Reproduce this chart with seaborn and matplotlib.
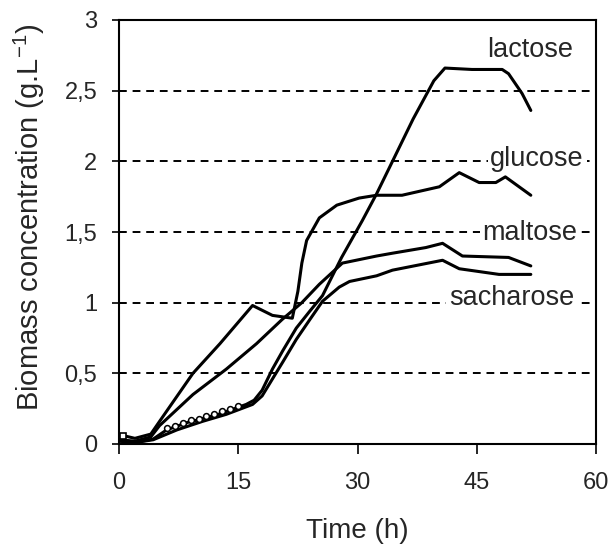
import matplotlib
matplotlib.use("Agg")
import matplotlib.pyplot as plt
import seaborn as sns
import pandas as pd

# Biomass growth curves on four carbon sources (time in h, biomass in g/L)
lactose_t = [0, 2, 4.3, 6, 7, 8, 9, 10, 11, 12, 13, 14, 15, 16, 17, 18, 19.3, 20.6,
             22.3, 24, 25.6, 28, 30.6, 32.4, 34.4, 37, 39.6, 41, 44.4, 48.2, 49, 50.7, 51.8]
lactose_v = [0.02, 0.01, 0.035, 0.10, 0.12, 0.14, 0.16, 0.17, 0.19, 0.20, 0.22, 0.24, 0.26,
             0.28, 0.31, 0.38, 0.53, 0.66, 0.82, 0.94, 1.05, 1.32, 1.58, 1.77, 2.00, 2.30,
             2.57, 2.66, 2.65, 2.65, 2.62, 2.48, 2.36]

glucose_t = [0.5, 2, 4, 5.1, 9.3, 12.7, 16.8, 19.3, 21.8, 22.5, 23, 23.6, 25.2, 27.4, 30.2,
             32.4, 35.6, 40.3, 42.8, 45.3, 47.4, 48.6, 51.8]
glucose_v = [0.06, 0.04, 0.07, 0.16, 0.50, 0.71, 0.98, 0.91, 0.89, 1.08, 1.28, 1.44, 1.60,
             1.69, 1.74, 1.76, 1.76, 1.82, 1.92, 1.85, 1.85, 1.89, 1.76]

maltose_t = [0, 2, 4, 5.1, 9.3, 13.5, 17.3, 20.5, 23, 25.2, 28.1, 32.4, 34.4, 38.6, 40.7,
             43.2, 49, 51.8]
maltose_v = [0.03, 0.02, 0.05, 0.13, 0.35, 0.53, 0.71, 0.88, 1.00, 1.13, 1.28, 1.33, 1.35,
             1.39, 1.42, 1.33, 1.32, 1.26]

sacharose_t = [0, 2, 4.3, 7.3, 10.5, 13.5, 16.8, 18, 19.3, 20.6, 22.3, 24, 25.6, 27.7, 29,
               32.4, 34.4, 38, 40.7, 42.8, 47.8, 51.8]
sacharose_v = [0.0, 0.01, 0.03, 0.10, 0.16, 0.21, 0.28, 0.34, 0.46, 0.58, 0.74, 0.88, 1.01,
               1.11, 1.15, 1.19, 1.23, 1.27, 1.30, 1.24, 1.20, 1.20]

curve_labels = ["lactose", "glucose", "maltose", "sacharose"]
label_t = [51.7, 52.6, 51.7, 49.4]
label_v = [2.79, 2.02, 1.49, 1.03]

x_ticks = [0, 15, 30, 45, 60]
y_ticks = [0, 0.5, 1, 1.5, 2, 2.5, 3]
y_tick_labels = ["0", "0,5", "1", "1,5", "2", "2,5", "3"]

sns.set_style("ticks")
plt.rcParams["font.family"] = ["Liberation Sans", "DejaVu Sans"]

fig = plt.figure(figsize=(6.11, 5.48), dpi=100)
ax = fig.add_axes([119 / 611, 1 - 444 / 548, 477 / 611, 424 / 548])

frames = []
for name, t, v in [("lactose", lactose_t, lactose_v), ("glucose", glucose_t, glucose_v),
                   ("maltose", maltose_t, maltose_v), ("sacharose", sacharose_t, sacharose_v)]:
    frames.append(pd.DataFrame({"time": t, "biomass": v, "sugar": name}))
df = pd.concat(frames, ignore_index=True)

# dashed horizontal reference lines
for yv in y_ticks[1:-1]:
    ax.axhline(yv, color="black", lw=1.4, ls=(0, (4, 3)), zorder=1)

sns.lineplot(data=df, x="time", y="biomass", hue="sugar", units="sugar", estimator=None,
             sort=False, palette=["black"] * 4, lw=2.2, legend=False, ax=ax, zorder=3)

# open markers along the early lactose points
early = df[(df["sugar"] == "lactose") & (df["time"] >= 6) & (df["time"] <= 15)]
ax.plot(early["time"], early["biomass"] + 0.01, ls="none", marker="o", ms=4.2,
        mfc="white", mec="black", mew=1.1, zorder=4)
first = df[df["sugar"] == "glucose"].iloc[:1]
ax.plot(first["time"], first["biomass"], ls="none", marker="s", ms=4.5,
        mfc="white", mec="black", mew=1.2, zorder=4)

for lab, tx, ty in zip(curve_labels, label_t, label_v):
    ax.text(tx, ty, lab, fontsize=19.5, ha="center", va="center", zorder=2,
            bbox=dict(boxstyle="square,pad=0.1", fc="white", ec="none"))

ax.set_xlim(0, 60)
ax.set_ylim(0, 3)
ax.set_xticks(x_ticks)
ax.set_xticklabels([str(x) for x in x_ticks])
ax.set_yticks(y_ticks)
ax.set_yticklabels(y_tick_labels)
ax.tick_params(axis="y", direction="inout", length=9.5, width=1.4, labelsize=17, pad=11)
ax.tick_params(axis="x", direction="out", length=7, width=1.4, labelsize=17, pad=13.5)
for sp in ax.spines.values():
    sp.set_linewidth(1.5)
    sp.set_color("black")

ax.set_xlabel("Time (h)", fontsize=20)
ax.set_ylabel("Biomass concentration (g.L$^{\\mathregular{-1}}$)", fontsize=21)
ax.xaxis.set_label_coords(0.5, -0.175)
ax.yaxis.set_label_coords(-0.15, 0.535)

fig.savefig("out.png", dpi=100)
